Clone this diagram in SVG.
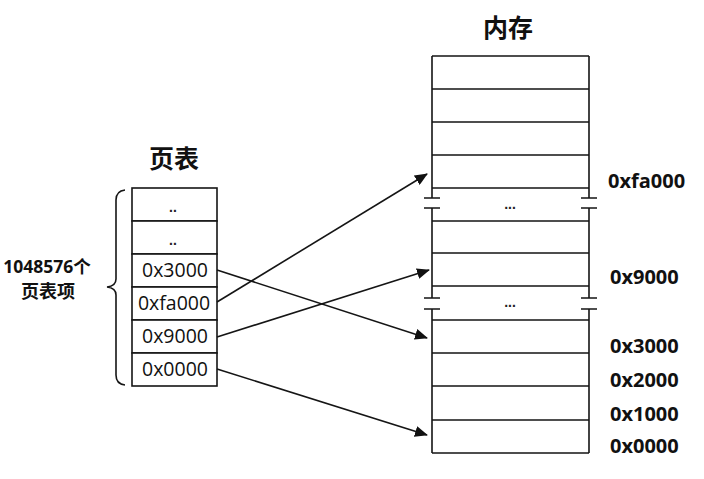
<svg xmlns="http://www.w3.org/2000/svg" width="704" height="479" viewBox="0 0 704 479">
<style>
.ln{stroke:#151515;stroke-width:1.6;fill:none}
.cell{fill:#fff;stroke:#151515;stroke-width:1.6}
.ent{font-family:"Open Sans","Liberation Sans",sans-serif;font-size:19.5px;fill:#111;text-anchor:middle}
.addr{font-family:"Open Sans","Liberation Sans",sans-serif;font-size:20px;font-weight:bold;fill:#111}
.ttl{font-family:"Noto Sans CJK SC",sans-serif;font-size:25px;font-weight:bold;fill:#111;text-anchor:middle}
.dots{font-family:"Liberation Sans",sans-serif;font-size:14px;font-weight:bold;fill:#222;text-anchor:middle}
.cnt{font-family:"Open Sans","Noto Sans CJK SC",sans-serif;font-weight:bold;fill:#111;text-anchor:middle}
</style>
<defs>
<marker id="ah" markerUnits="userSpaceOnUse" markerWidth="13" markerHeight="11" refX="12" refY="5.5" orient="auto">
<path d="M0,0 L13,5.5 L0,11 z" fill="#111"/>
</marker>
</defs>
<rect width="704" height="479" fill="#fff"/>

<g id="page-table">
<text class="ttl" x="174" y="168">页表</text>
<rect class="cell" x="132" y="188" width="85" height="33"/>
<rect class="cell" x="132" y="221" width="85" height="33"/>
<rect class="cell" x="132" y="254" width="85" height="33"/>
<rect class="cell" x="132" y="287" width="85" height="33"/>
<rect class="cell" x="132" y="320" width="85" height="33"/>
<rect class="cell" x="132" y="353" width="85" height="33"/>
<text class="dots" x="173" y="212">..</text>
<text class="dots" x="173" y="245">..</text>
<text class="ent" x="175" y="277">0x3000</text>
<text class="ent" x="174" y="310">0xfa000</text>
<text class="ent" x="175" y="343">0x9000</text>
<text class="ent" x="175" y="376">0x0000</text>
</g>

<g id="entry-count">
<path class="ln" d="M125,190 Q116,191 116,200 L116,279 Q116,286 107,287 Q116,288 116,295 L116,375 Q116,384 125,385"/>
<text class="cnt" x="47" y="273" font-size="17.5">1048576个</text>
<text class="cnt" x="48" y="298" font-size="18">页表项</text>
</g>

<g id="memory">
<text class="ttl" x="508" y="37">内存</text>
<path class="ln" d="M432,56 L432,198 M432,208 L432,298 M432,309 L432,453 M589,56 L589,198 M589,208 L589,298 M589,309 L589,453"/>
<path class="ln" d="M424,198 H440 M424,208 H440 M424,298 H440 M424,309 H440 M581,198 H597 M581,208 H597 M581,298 H597 M581,309 H597"/>
<path class="ln" d="M432,56 H589 M432,89 H589 M432,122 H589 M432,155 H589 M432,188 H589 M432,221 H589 M432,253 H589 M432,286 H589 M432,320 H589 M432,353 H589 M432,386 H589 M432,420 H589 M432,453 H589"/>
<text class="dots" x="510" y="209">...</text>
<text class="dots" x="510" y="307">...</text>
</g>

<g id="addresses">
<text class="addr" x="608" y="188">0xfa000</text>
<text class="addr" x="610" y="284">0x9000</text>
<text class="addr" x="610" y="353">0x3000</text>
<text class="addr" x="610" y="387">0x2000</text>
<text class="addr" x="610" y="421">0x1000</text>
<text class="addr" x="610" y="453">0x0000</text>
</g>

<g id="connectors">
<line class="ln" x1="217" y1="270" x2="427" y2="338" marker-end="url(#ah)"/>
<line class="ln" x1="217" y1="302" x2="427" y2="174" marker-end="url(#ah)"/>
<line class="ln" x1="217" y1="337" x2="429" y2="270" marker-end="url(#ah)"/>
<line class="ln" x1="217" y1="369" x2="427" y2="435" marker-end="url(#ah)"/>
</g>
</svg>
